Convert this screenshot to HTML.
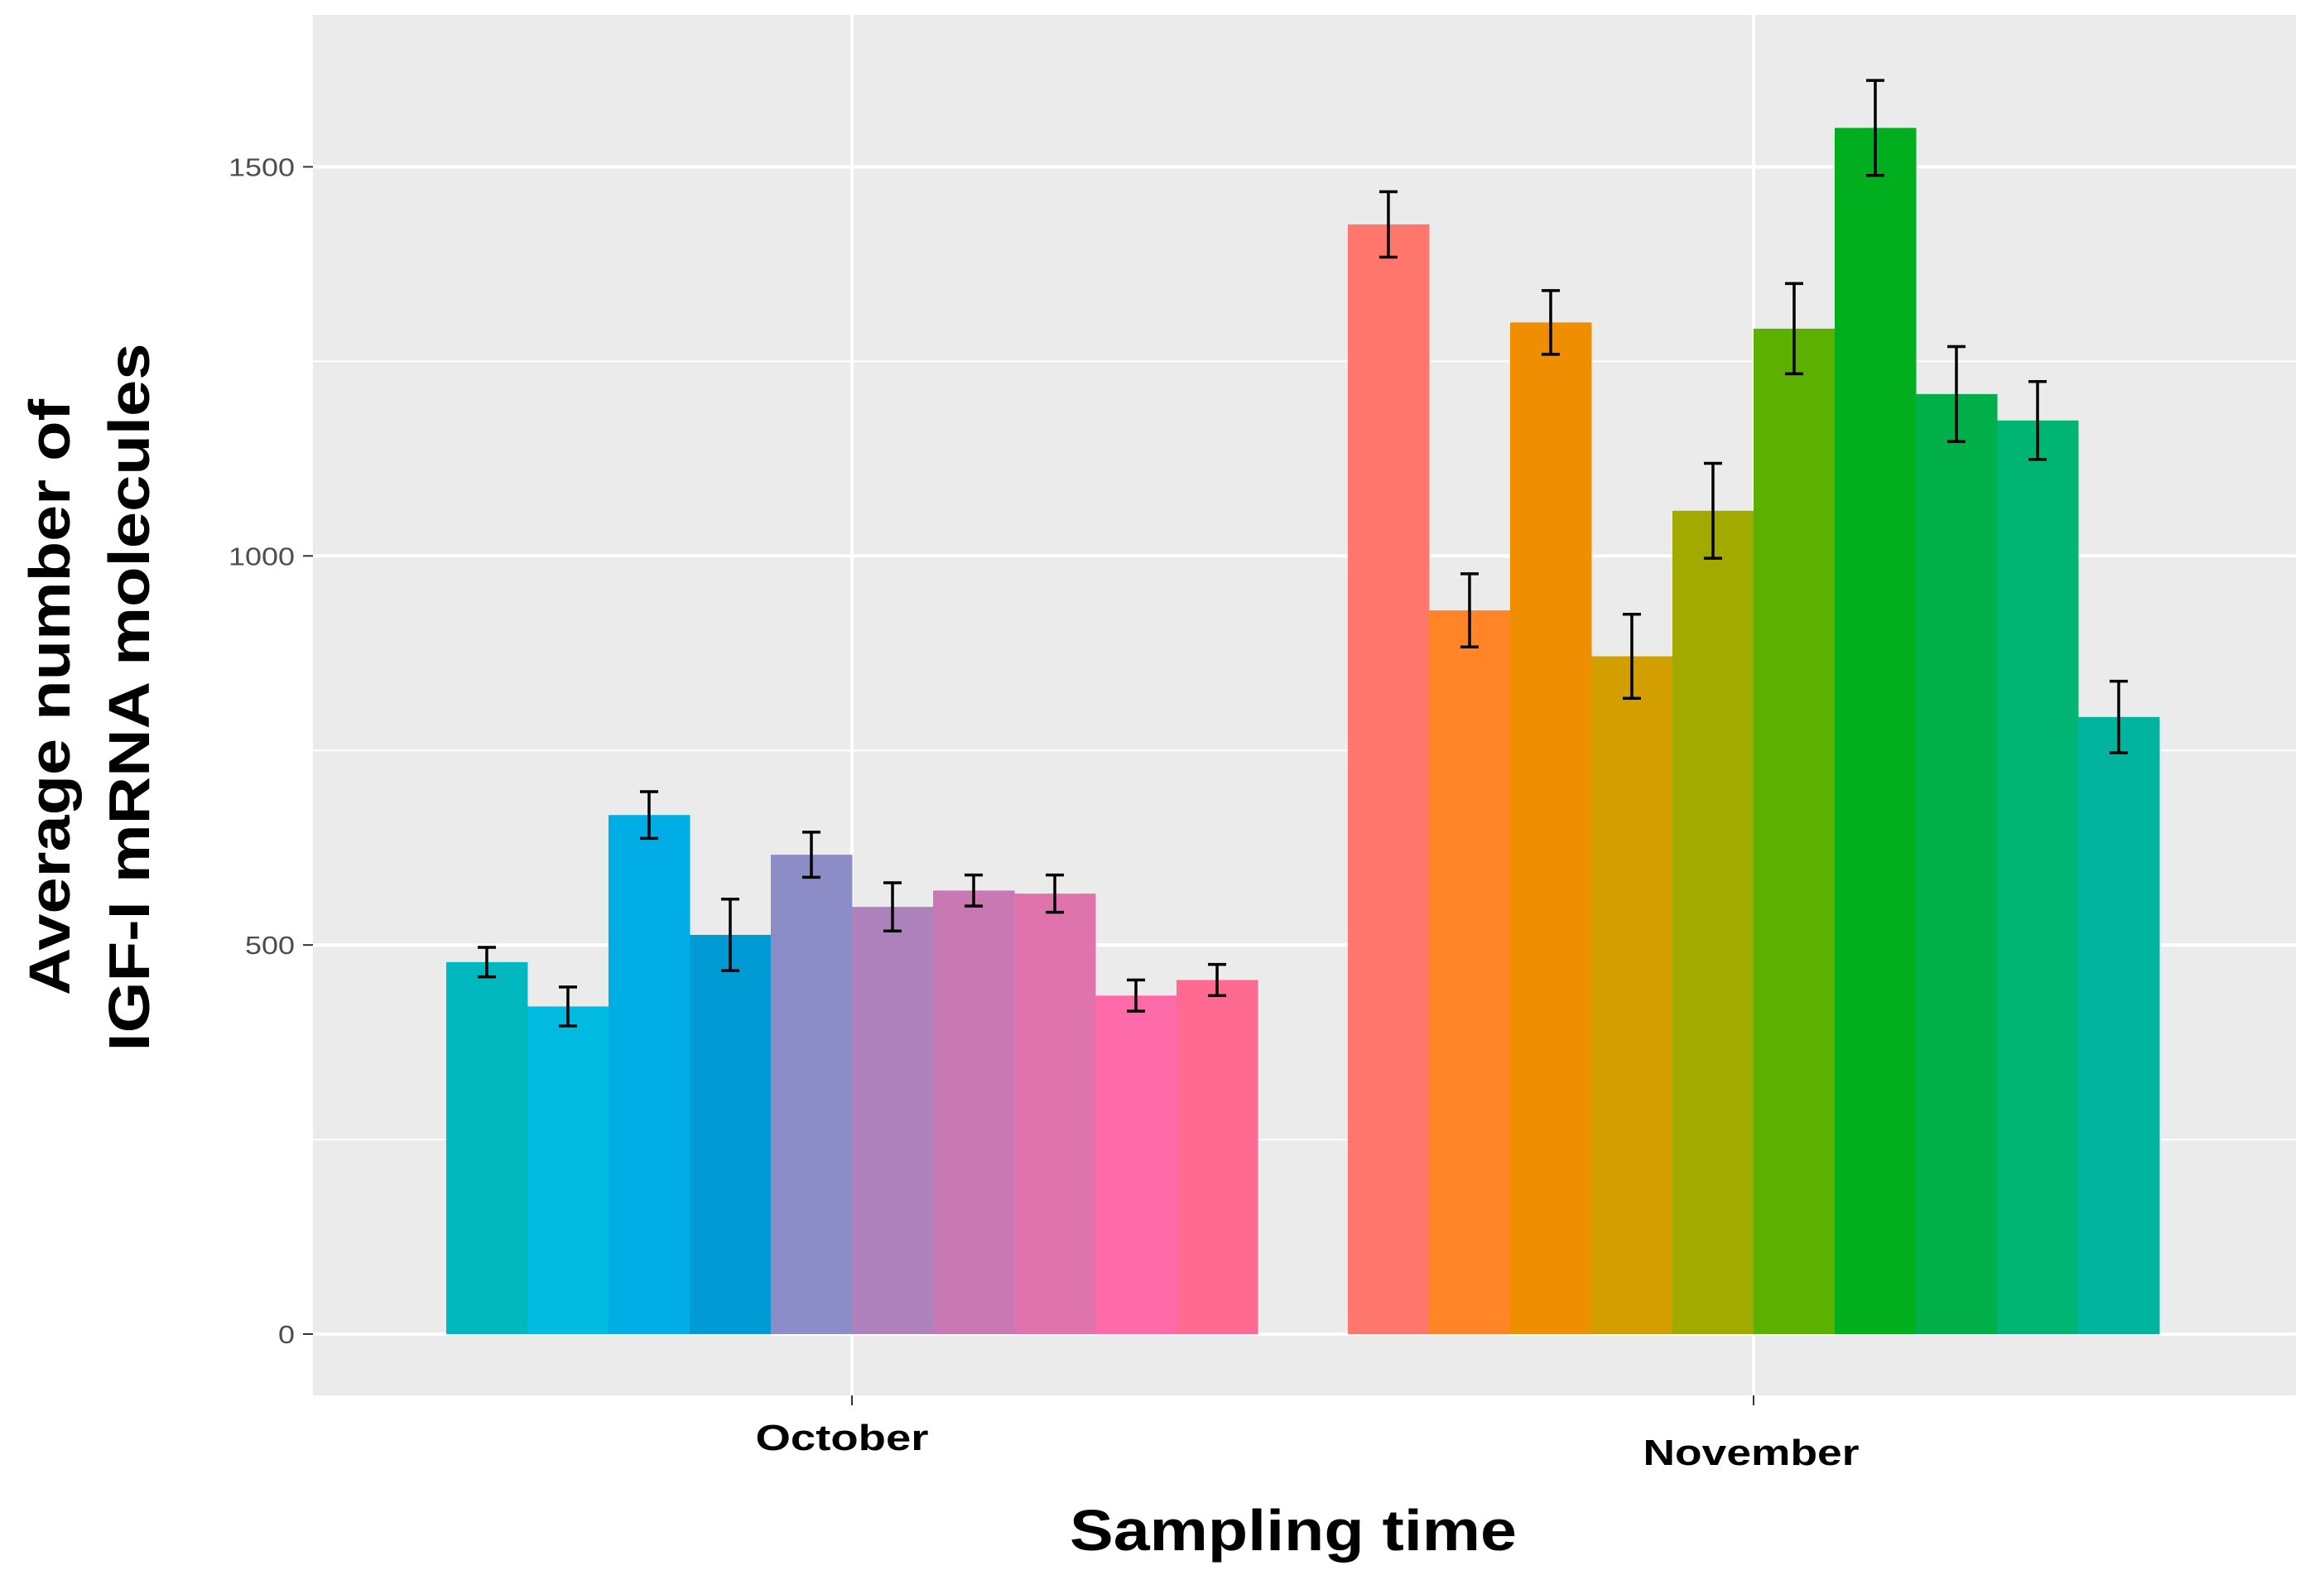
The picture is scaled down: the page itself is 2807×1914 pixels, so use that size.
<!DOCTYPE html>
<html><head><meta charset="utf-8"><style>
html,body{margin:0;padding:0;background:#fff;}
svg{display:block;font-family:"Liberation Sans",Arial,sans-serif;}
</style></head><body>
<svg id="chart" width="2807" height="1914" viewBox="0 0 2807 1914" xmlns="http://www.w3.org/2000/svg">
<rect x="378" y="18" width="2395" height="1667" fill="#ebebeb"/>
<g id="grid"></g>
<g id="bars"></g>
<g id="errs"></g>
<g id="yticks"></g>
<g id="xticks"></g>
<text x="1562" y="1872" font-size="70" font-weight="bold" text-anchor="middle" fill="#000" textLength="540" lengthAdjust="spacingAndGlyphs">Sampling time</text>
<text transform="translate(84,842) rotate(-90)" font-size="70" font-weight="bold" text-anchor="middle" fill="#000" textLength="720" lengthAdjust="spacingAndGlyphs">Average number of</text>
<text transform="translate(180,842) rotate(-90)" font-size="70" font-weight="bold" text-anchor="middle" fill="#000" textLength="855" lengthAdjust="spacingAndGlyphs">IGF-I mRNA molecules</text>
</svg>
<script>
const categories = ["October", "November"];
const octValues = [478, 421, 667, 513, 616, 549, 570, 566, 435, 455];
const octErrors = [19, 25, 30, 46, 29, 31, 20, 24, 20, 20];
const novValues = [1426, 930, 1300, 871, 1058, 1292, 1550, 1208, 1174, 793];
const novErrors = [42, 47, 41, 54, 61, 58, 61, 61, 50, 46];
const octColors = ["#00B8BE","#00BBDF","#00ADE5","#009BD5","#8C8CC6","#AD82BC","#C879B3","#DF74AD","#FF6BA8","#FF6A93"];
const novColors = ["#FF776C","#FF8526","#EE8E00","#D29E00","#A2AA00","#5CB100","#00AE1E","#00AF48","#00B573","#00B4A0"];
const yTicks = [0, 500, 1000, 1500];
const yMinor = [250, 750, 1250];

const NS = "http://www.w3.org/2000/svg";
function y(v){ return 1611 - v * 0.9397; }
function xc(i){ return 1029 + i * 1089; }
const unit = 1089, groupW = 0.9;
function mk(tag, attrs, parent){
  const e = document.createElementNS(NS, tag);
  for (const k in attrs) e.setAttribute(k, attrs[k]);
  parent.appendChild(e); return e;
}
const grid = document.getElementById("grid");
yMinor.forEach(v => {
  const l = mk("line", {x1:378, x2:2773, y1:y(v), y2:y(v), stroke:"#fff", "stroke-width":2}, grid);
  
  
});
yTicks.forEach(v => {
  const l = mk("line", {x1:378, x2:2773, y1:y(v), y2:y(v), stroke:"#fff", "stroke-width":4}, grid);
  
  
});
categories.forEach((c, i) => {
  const l = mk("line", {x1:xc(i), x2:xc(i), y1:18, y2:1685, stroke:"#fff", "stroke-width":4}, grid);
  
  
});
const bars = document.getElementById("bars"), errs = document.getElementById("errs");
[[octValues, octErrors, octColors], [novValues, novErrors, novColors]].forEach((s, gi) => {
  const vals = s[0], es = s[1], cols = s[2];
  const n = vals.length, bw = unit * groupW / n, x0 = xc(gi) - unit * groupW / 2;
  vals.forEach((v, j) => {
    const bx = x0 + j * bw;
    const r = mk("rect", {x:bx, y:y(v), width:bw + 0.5, height:y(0) - y(v), fill:cols[j]}, bars);
    
    
    const cx = bx + bw / 2, t = y(v + es[j]), b = y(v - es[j]);
    const g = mk("g", {stroke:"#000", "stroke-width":3.5}, errs);
    
    
    mk("line", {x1:cx, x2:cx, y1:t, y2:b}, g);
    mk("line", {x1:cx - 11, x2:cx + 11, y1:t, y2:t}, g);
    mk("line", {x1:cx - 11, x2:cx + 11, y1:b, y2:b}, g);
  });
});
const yt = document.getElementById("yticks");
yTicks.forEach(v => {
  const s = String(v);
  const t = mk("text", {x:356, y:y(v) + 11, "font-size":31, fill:"#4d4d4d", "text-anchor":"end", textLength: s.length * 20, lengthAdjust:"spacingAndGlyphs"}, yt);
  t.textContent = s;
  
  
  const m = mk("line", {x1:366, x2:378, y1:y(v), y2:y(v), stroke:"#333", "stroke-width":2}, yt);
  
  
});
const xt = document.getElementById("xticks");
const xLabelLens = [209, 261];
categories.forEach((c, i) => {
  const t = mk("text", {x:xc(i) - (i === 0 ? 12 : 3), y: i === 0 ? 1751 : 1769, "font-size":44, "font-weight":"bold", fill:"#000", "text-anchor":"middle", textLength: xLabelLens[i], lengthAdjust:"spacingAndGlyphs"}, xt);
  t.textContent = c;
  
  
  const m = mk("line", {x1:xc(i), x2:xc(i), y1:1685, y2:1697, stroke:"#333", "stroke-width":2}, xt);
  
  
});
</script>
</body></html>
